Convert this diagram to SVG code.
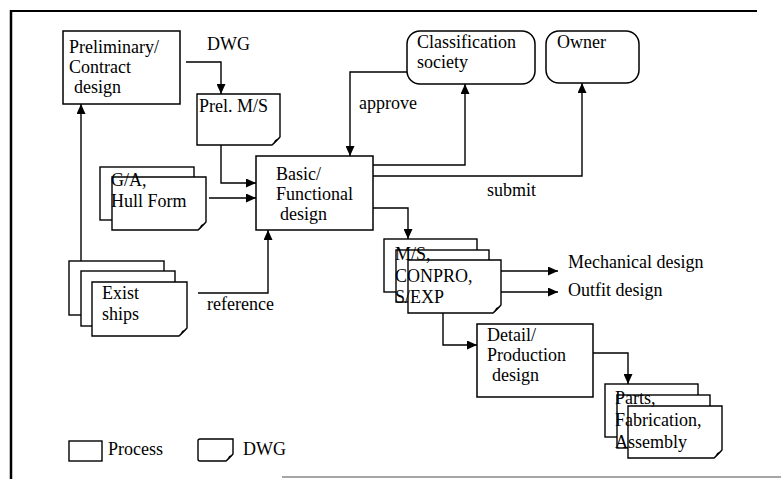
<svg xmlns="http://www.w3.org/2000/svg" width="781" height="479" viewBox="0 0 781 479">
<defs>
<marker id="ah" markerUnits="userSpaceOnUse" markerWidth="11" markerHeight="9" refX="10" refY="4.5" orient="auto">
<path d="M0,0 L10,4.5 L0,9 Z" fill="#000"/>
</marker>
</defs>
<style>
text{font-family:"Liberation Serif","Times New Roman",serif;font-size:18px;fill:#000}
.box{fill:#fff;stroke:#000;stroke-width:1.5}
.doc{fill:#fff;stroke:#000;stroke-width:1.4}
.fold{fill:#000}
.con{fill:none;stroke:#000;stroke-width:1.4;marker-end:url(#ah)}
</style>
<rect width="781" height="479" fill="#fff"/>
<g id="frame">
<line x1="11" y1="10" x2="11" y2="479" stroke="#000" stroke-width="2.5"/>
<line x1="10" y1="11" x2="757" y2="11" stroke="#000" stroke-width="2"/>
<line x1="282" y1="477" x2="781" y2="477" stroke="#888" stroke-width="1.5"/>
</g>
<g id="connectors">
<path class="con" d="M186,62 H221 V94"/>
<path class="con" d="M221,145 V183 H256"/>
<path class="con" d="M209,198 H256"/>
<path class="con" d="M373,165 H465 V84"/>
<path class="con" d="M373,176 H582 V83"/>
<path class="con" d="M407,72 H350 V156"/>
<path class="con" d="M81,261 V104"/>
<path class="con" d="M198,293 H268 V230"/>
<path class="con" d="M373,208 H408 V239"/>
<path class="con" d="M501,271 H558"/>
<path class="con" d="M501,292 H558"/>
<path class="con" d="M443,313 V345 H477"/>
<path class="con" d="M593,353 H628 V384"/>
</g>
<g id="preliminary">
<rect class="box" x="63" y="31" width="117" height="73"/>
<text x="69" y="53">Preliminary/</text>
<text x="69" y="73">Contract</text>
<text x="74" y="93">design</text>
</g>
<g id="dwg-label">
<text x="207" y="50">DWG</text>
</g>
<g id="prel-ms">
<path class="doc" d="M197,94 H280 V137 L272,145 H197 Z"/>
<path class="fold" d="M280,138 L273,145 L275,140 Z"/>
<text x="199" y="112">Prel. M/S</text>
</g>
<g id="classification">
<rect class="box" x="407" y="31" width="128" height="53" rx="13"/>
<text x="417" y="48">Classification</text>
<text x="417" y="68">society</text>
</g>
<g id="owner">
<rect class="box" x="546" y="31" width="93" height="52" rx="13"/>
<text x="557" y="48">Owner</text>
</g>
<g id="labels">
<text x="359" y="109">approve</text>
<text x="487" y="196">submit</text>
<text x="207" y="310">reference</text>
</g>
<g id="basic">
<rect class="box" x="256" y="156" width="117" height="74"/>
<text x="276" y="180">Basic/</text>
<text x="276" y="200">Functional</text>
<text x="280" y="220">design</text>
</g>
<g id="ga-hull">
<rect class="doc" x="100" y="167" width="94" height="53"/>
<path class="doc" d="M112,177 H206 V222 L198,230 H112 Z"/>
<path class="fold" d="M206,223 L199,230 L201,225 Z"/>
<text x="111" y="186">G/A,</text>
<text x="111" y="207">Hull Form</text>
</g>
<g id="exist-ships">
<rect class="doc" x="69" y="261" width="95" height="54"/>
<rect class="doc" x="81" y="271" width="94" height="55"/>
<path class="doc" d="M92,282 H187 V328 L179,336 H92 Z"/>
<path class="fold" d="M187,329 L180,336 L182,331 Z"/>
<text x="102" y="299">Exist</text>
<text x="102" y="320">ships</text>
</g>
<g id="ms-conpro">
<rect class="doc" x="384" y="239" width="93" height="53"/>
<rect class="doc" x="396" y="250" width="93" height="52"/>
<path class="doc" d="M408,260 H501 V305 L493,313 H408 Z"/>
<path class="fold" d="M501,306 L494,313 L496,308 Z"/>
<text x="395" y="260">M/S,</text>
<text x="395" y="282">CONPRO,</text>
<text x="395" y="303">S/EXP</text>
</g>
<g id="outputs">
<text x="568" y="268">Mechanical design</text>
<text x="568" y="296">Outfit design</text>
</g>
<g id="detail">
<rect class="box" x="477" y="324" width="116" height="73"/>
<text x="487" y="341">Detail/</text>
<text x="487" y="361">Production</text>
<text x="492" y="381">design</text>
</g>
<g id="parts">
<rect class="doc" x="605" y="384" width="93" height="53"/>
<rect class="doc" x="617" y="395" width="93" height="53"/>
<path class="doc" d="M628,406 H722 V450 L714,458 H628 Z"/>
<path class="fold" d="M722,451 L715,458 L717,453 Z"/>
<text x="615" y="404">Parts,</text>
<text x="615" y="426">Fabrication,</text>
<text x="615" y="448">Assembly</text>
</g>
<g id="legend">
<rect class="doc" x="69" y="441" width="33" height="20"/>
<text x="108" y="455">Process</text>
<path class="doc" d="M198,441 Q198,439 200,439 H233 V454 L226,461 H200 Q198,461 198,459 Z"/>
<path class="fold" d="M233,455 L227,461 L229,456 Z"/>
<text x="243" y="455">DWG</text>
</g>
</svg>
